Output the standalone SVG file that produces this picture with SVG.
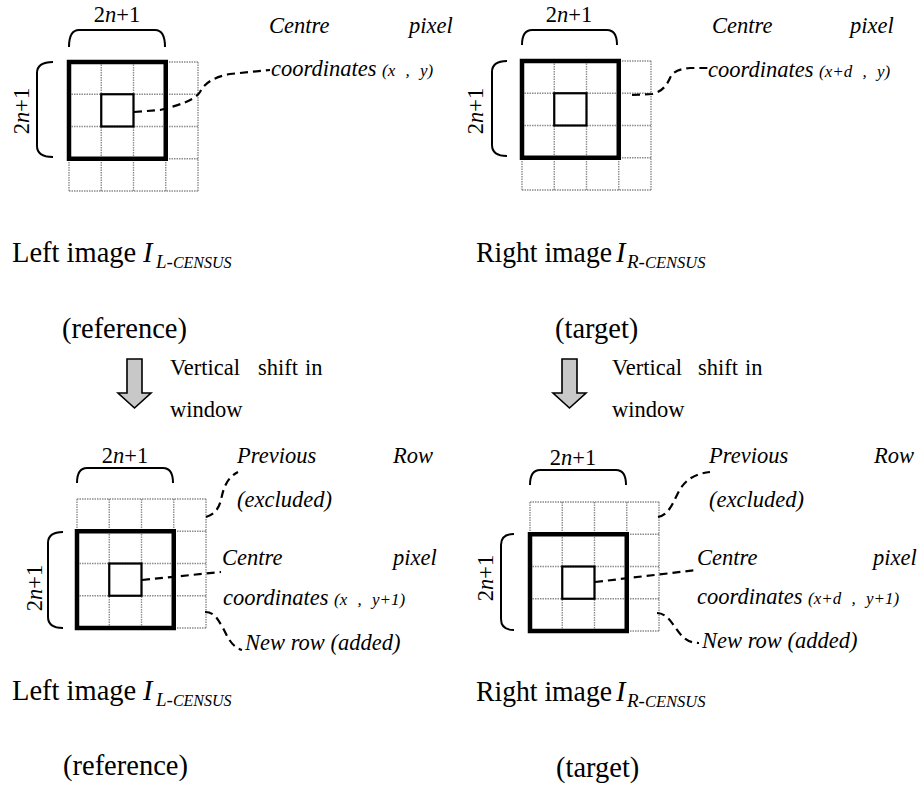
<svg xmlns="http://www.w3.org/2000/svg" width="921" height="789" viewBox="0 0 921 789">
<defs>
<style>
text{font-family:"Liberation Serif","Times New Roman",serif;fill:#000}
.it{font-style:italic}
.lbl{font-size:22.5px;font-style:italic}
.par{font-size:17px;font-style:italic;word-spacing:6px}
.cap{font-size:28.5px}
.sub{font-style:italic}
.mid{font-size:22.5px}
.dim{font-size:22.5px;text-anchor:middle}
.grid{fill:none;stroke:#8c8c8c;stroke-width:1.4;stroke-dasharray:1.5 1}
.thick{fill:none;stroke:#000;stroke-width:4.5}
.cbox{fill:none;stroke:#000;stroke-width:2.2}
.brace{fill:none;stroke:#000;stroke-width:2}
.lead{fill:none;stroke:#000;stroke-width:2.2;stroke-dasharray:8 5}
.arrow{fill:#c8c8c8;stroke:#000;stroke-width:1.6}
</style>
<path id="grid4" class="grid" d="M0,0H129M0,32.25H129M0,64.5H129M0,96.75H129M0,129H129M0,0V129M32.25,0V129M64.5,0V129M96.75,0V129M129,0V129"/>
</defs>
<rect width="921" height="789" fill="#fff"/>

<!-- Top-left panel -->
<g id="panel-tl">
  <use href="#grid4" x="69" y="62"/>
  <rect class="thick" x="69" y="62" width="96.75" height="96.75"/>
  <rect class="cbox" x="101.25" y="94.25" width="32.25" height="32.25"/>
  <path class="brace" d="M69,47 Q69,30 79,30 H155 Q165,30 165,47"/>
  <path class="brace" d="M53,62 Q37,62 37,73 V146 Q37,157 53,157"/>
  <text class="dim" x="117" y="22">2<tspan class="it">n</tspan>+1</text>
  <text class="dim" transform="translate(29,111) rotate(-90)">2<tspan class="it">n</tspan>+1</text>
  <text class="lbl" x="269" y="33">Centre</text>
  <text class="lbl" x="409" y="33">pixel</text>
  <text class="lbl" x="271" y="76">coordinates <tspan class="par">(x , y)</tspan></text>
</g>

<!-- Top-right panel -->
<g id="panel-tr">
  <use href="#grid4" x="522" y="61"/>
  <rect class="thick" x="522" y="61" width="96.75" height="96.75"/>
  <rect class="cbox" x="554.25" y="93.25" width="32.25" height="32.25"/>
  <path class="brace" d="M522,45 Q522,30 532,30 H607 Q617,30 617,45"/>
  <path class="brace" d="M507,61 Q492,61 492,72 V145 Q492,156 507,156"/>
  <text class="dim" x="569" y="22">2<tspan class="it">n</tspan>+1</text>
  <text class="dim" transform="translate(483,111) rotate(-90)">2<tspan class="it">n</tspan>+1</text>
  <text class="lbl" x="712" y="33">Centre</text>
  <text class="lbl" x="850" y="33">pixel</text>
  <text class="lbl" x="708" y="77">coordinates <tspan class="par">(x+d , y)</tspan></text>
</g>

<!-- Bottom-left panel -->
<g id="panel-bl">
  <use href="#grid4" x="77" y="499"/>
  <rect class="thick" x="77" y="531.25" width="96.75" height="96.75"/>
  <rect class="cbox" x="109.25" y="563.5" width="32.25" height="32.25"/>
  <path class="brace" d="M77,483 Q77,468 87,468 H163 Q173,468 173,483"/>
  <path class="brace" d="M63,532 Q48,532 48,543 V617 Q48,628 63,628"/>
  <text class="dim" x="125" y="463">2<tspan class="it">n</tspan>+1</text>
  <text class="dim" transform="translate(42,588) rotate(-90)">2<tspan class="it">n</tspan>+1</text>
  <text class="lbl" x="237" y="463">Previous</text>
  <text class="lbl" x="393" y="463">Row</text>
  <text class="lbl" x="237" y="507">(excluded)</text>
  <text class="lbl" x="222" y="565">Centre</text>
  <text class="lbl" x="393" y="565">pixel</text>
  <text class="lbl" x="223" y="605">coordinates <tspan class="par">(x , y+1)</tspan></text>
  <text class="lbl" x="245" y="650">New row (added)</text>
</g>

<!-- Bottom-right panel -->
<g id="panel-br">
  <use href="#grid4" x="530" y="502"/>
  <rect class="thick" x="530" y="534.25" width="96.75" height="96.75"/>
  <rect class="cbox" x="562.25" y="566.5" width="32.25" height="32.25"/>
  <path class="brace" d="M530,485 Q530,470 540,470 H616 Q626,470 626,485"/>
  <path class="brace" d="M514,534 Q501,534 501,545 V619 Q501,630 514,630"/>
  <text class="dim" x="573" y="465">2<tspan class="it">n</tspan>+1</text>
  <text class="dim" transform="translate(493,578) rotate(-90)">2<tspan class="it">n</tspan>+1</text>
  <text class="lbl" x="709" y="463">Previous</text>
  <text class="lbl" x="874" y="463">Row</text>
  <text class="lbl" x="709" y="507">(excluded)</text>
  <text class="lbl" x="697" y="565">Centre</text>
  <text class="lbl" x="873" y="565">pixel</text>
  <text class="lbl" x="697" y="604">coordinates <tspan class="par">(x+d , y+1)</tspan></text>
  <text class="lbl" x="702" y="648">New row (added)</text>
</g>

<!-- Captions -->
<g id="captions">
  <text class="cap" x="12" y="262">Left image <tspan class="it" x="143">I</tspan><tspan class="sub" x="156" y="268" font-size="19">L-</tspan><tspan class="sub" font-size="16">CENSUS</tspan></text>
  <text class="cap" x="62" y="338">(reference)</text>
  <text class="cap" x="476" y="262" textLength="136" lengthAdjust="spacingAndGlyphs">Right image</text>
  <text class="cap" x="616" y="262"><tspan class="it">I</tspan><tspan class="sub" x="627" y="268" font-size="19">R-</tspan><tspan class="sub" font-size="16.5">CENSUS</tspan></text>
  <text class="cap" x="555" y="338">(target)</text>
  <text class="mid" x="170" y="375">Vertical</text>
  <text class="mid" x="258" y="375">shift</text>
  <text class="mid" x="305" y="375">in</text>
  <text class="mid" x="170" y="417">window</text>
  <text class="mid" x="612" y="375">Vertical</text>
  <text class="mid" x="698" y="375">shift</text>
  <text class="mid" x="745" y="375">in</text>
  <text class="mid" x="612" y="417">window</text>
  <text class="cap" x="12" y="700">Left image <tspan class="it" x="143">I</tspan><tspan class="sub" x="156" y="706" font-size="19">L-</tspan><tspan class="sub" font-size="16">CENSUS</tspan></text>
  <text class="cap" x="63" y="775">(reference)</text>
  <text class="cap" x="476" y="701" textLength="136" lengthAdjust="spacingAndGlyphs">Right image</text>
  <text class="cap" x="616" y="701"><tspan class="it">I</tspan><tspan class="sub" x="627" y="707" font-size="19">R-</tspan><tspan class="sub" font-size="16.5">CENSUS</tspan></text>
  <text class="cap" x="556" y="777">(target)</text>
</g>

<!-- Shift arrows -->
<g id="arrows">
  <path class="arrow" d="M127,359 H142 V393 H151 L134.5,408 L118,393 H127 Z"/>
  <path class="arrow" d="M562,359 H577 V393 H586 L569.5,408 L553,393 H562 Z"/>
</g>

<!-- Connectors -->
<g id="connectors">
  <path class="lead" d="M134,112 L160,110 C180,105 195,100 200,92 C205,82 215,77 230,74 L270,70"/>
  <path class="lead" d="M632,95 L652,94 C662,92 667,85 670,78 C673,71 680,69 690,68 L708,68"/>
  <path class="lead" d="M206,517 C215,514 219,508 221,500 C223,490 226,478 238,472"/>
  <path class="lead" d="M142,580 L221,572"/>
  <path class="lead" d="M205,612 C215,612 218,620 223,628 C228,638 232,647 242,650"/>
  <path class="lead" d="M658,517 C668,515 672,505 677,495 C683,482 692,474 710,472"/>
  <path class="lead" d="M595,582 L697,570"/>
  <path class="lead" d="M657,613 C665,613 670,620 675,627 C681,636 687,643 699,643"/>
</g>
</svg>
